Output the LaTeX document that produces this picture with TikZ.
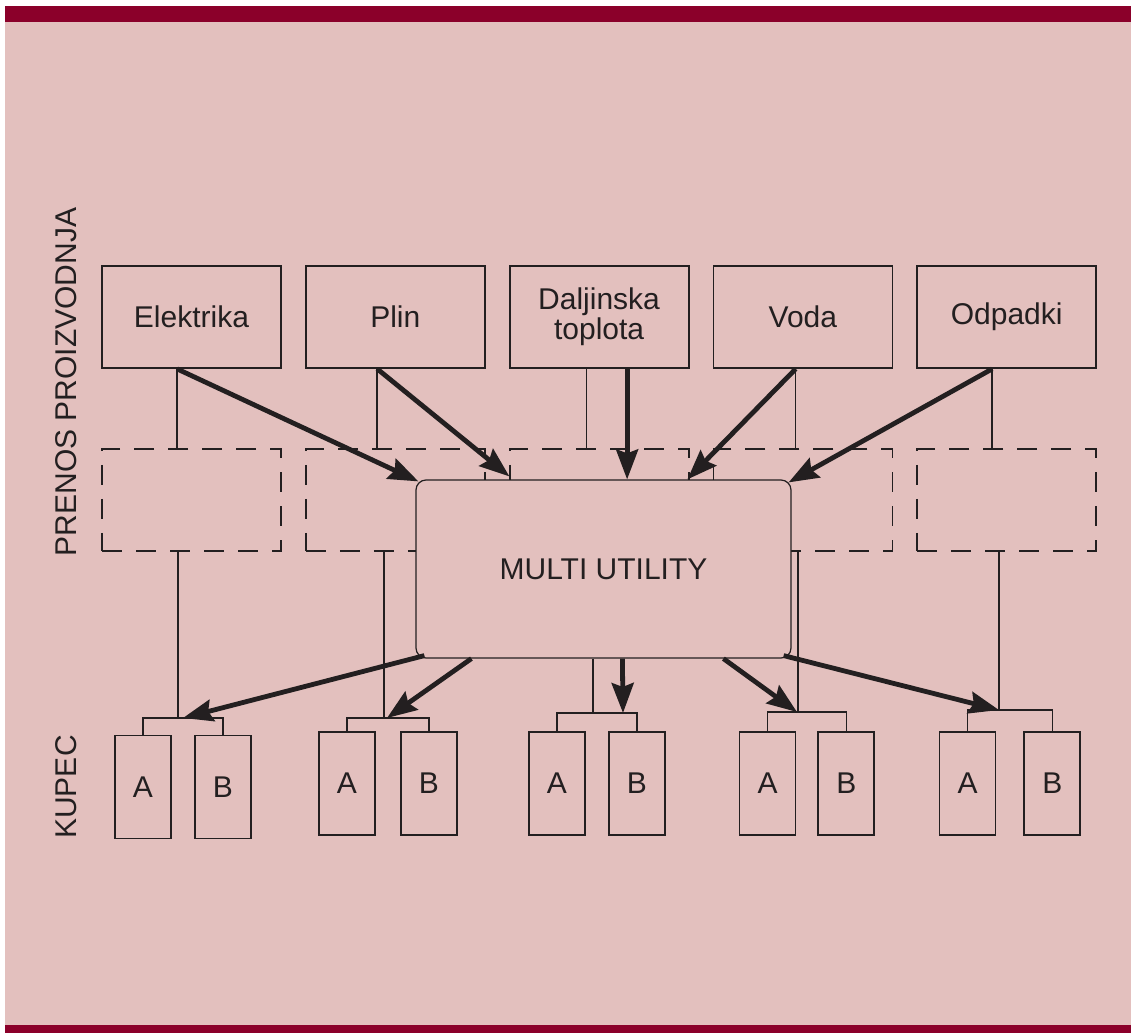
\documentclass[tikz,border=0pt]{standalone}
\usepackage{fontspec}
\setmainfont{Liberation Sans}
\usetikzlibrary{positioning}
\usetikzlibrary{calc}
\usetikzlibrary{arrows.meta}

\definecolor{bgpink}{RGB}{227,192,190}
\definecolor{barred}{RGB}{139,0,42}
\definecolor{ink}{RGB}{35,31,32}

\tikzset{
  src/.style={draw=ink, line width=0.9pt, minimum width=89.5pt, minimum height=51pt,
    inner sep=0pt, align=center, text=ink, font=\fontsize{15}{13.5}\selectfont},
  net/.style={draw=ink, dash pattern=on 10pt off 7pt, line width=0.9pt,
    minimum width=89.5pt, minimum height=51pt, inner sep=0pt},
  hub/.style={draw=ink, line width=0.6pt, fill=bgpink, rounded corners=5pt,
    minimum width=187.5pt, minimum height=89pt, text=ink, font=\fontsize{15}{18}\selectfont},
  cust/.style={draw=ink, line width=0.9pt, minimum width=28pt, minimum height=51.5pt,
    inner sep=0pt, text=ink, font=\fontsize{15}{18}\selectfont},
  tie/.style={draw=ink, line width=0.8pt},
  flow/.style={draw=ink, line width=2.4pt, -{Stealth[length=15pt,width=11pt,inset=2pt]}},
  side/.style={rotate=90, text=ink, font=\fontsize{15}{18}\selectfont},
}

\begin{document}
\begin{tikzpicture}[x=0.5pt, y=-0.5pt]
\fill[white] (0,0) rectangle (1131,1033);
\fill[bgpink] (5,6) rectangle (1131,1033);
\fill[barred] (5,6) rectangle (1131,22);
\fill[barred] (5,1025) rectangle (1131,1033);
\useasboundingbox (0,0) rectangle (1131,1033);

% side labels
\node (lblPrenos) [side] at (66,382) {PRENOS PROIZVODNJA};
\node (lblKupec)  [side] at (66,787) {KUPEC};

% sources
\node (el)               [src] at (191.5,317) {Elektrika};
\node (pl) [right=11.5pt of el, src] {Plin};
\node (dt) [right=11.5pt of pl, src] {Daljinska\\toplota};
\node (vo) [right=11.5pt of dt, src] {Voda};
\node (od) [right=11.5pt of vo, src] {Odpadki};

% networks
\node (elN) [below=39.5pt of el, net] {};
\node (plN) [below=39.5pt of pl, net] {};
\node (dtN) [below=39.5pt of dt, net] {};
\node (voN) [below=39.5pt of vo, net] {};
\node (odN) [below=39.5pt of od, net] {};

\coordinate (elS) at ($(el.south west)!0.42!(el.south east)$);
\coordinate (plS) at ($(pl.south west)!0.40!(pl.south east)$);
\coordinate (dtS) at ($(dt.south west)!0.43!(dt.south east)$);
\coordinate (dtA) at ($(dt.south west)!0.655!(dt.south east)$);
\coordinate (voS) at ($(vo.south west)!0.46!(vo.south east)$);
\coordinate (odS) at ($(od.south west)!0.42!(od.south east)$);

\draw[tie] (elS) -- (elS |- elN.north);
\draw[tie] (plS) -- (plS |- plN.north);
\draw[tie] (dtS) -- (dtS |- dtN.north);
\draw[tie] (voS) -- (voS |- voN.north);
\draw[tie] (odS) -- (odS |- odN.north);

% multi utility
\node (mu) [hub] at (603.5,569) {MULTI UTILITY};

% customers
\node (a1)              [cust] at (143,787) {A};
\node (b1) [right=11pt of a1, cust] {B};
\node (a2)              [cust] at (347,783.5) {A};
\node (b2) [right=12pt of a2, cust] {B};
\node (a3)              [cust] at (557,783.5) {A};
\node (b3) [right=11pt of a3, cust] {B};
\node (a4)              [cust] at (767.5,783.5) {A};
\node (b4) [right=10.5pt of a4, cust] {B};
\node (a5)              [cust] at (967.5,783.5) {A};
\node (b5) [right=13.5pt of a5, cust] {B};

\coordinate (k1) at (178,718);
\coordinate (k2) at (384,718);
\coordinate (k3) at (593,713);
\coordinate (k4) at (798,712);
\coordinate (k5) at (999,710);

\draw[tie] (a1.north) |- (k1) -| (b1.north);
\draw[tie] (a2.north) |- (k2) -| (b2.north);
\draw[tie] (a3.north) |- (k3) -| (b3.north);
\draw[tie] (a4.north) |- (k4) -| (b4.north);
\draw[tie] (a5.north) |- (k5) -| (b5.north);

\draw[tie] (k1 |- elN.south) -- (k1);
\draw[tie] (k2 |- plN.south) -- (k2);
\draw[tie] (k3 |- mu.south) -- (k3);
\draw[tie] (k4 |- voN.south) -- (k4);
\draw[tie] (k5 |- odN.south) -- (k5);

% flows in
\draw[flow] (elS) -- ($(mu.north west)+(3,2)$);
\draw[flow] (plS) -- ($(mu.north west)+(94,-3)$);
\draw[flow] (dtA) -- (dtA |- mu.north);
\draw[flow] (voS) -- ($(mu.north west)+(272,0)$);
\draw[flow] (odS) -- ($(mu.north east)+(-3,3)$);

% flows out
\draw[flow] ($(mu.south west)+(9,-3)$) -- ($(k1)+(5,0)$);
\draw[flow] ($(mu.south west)+(56,0)$) -- ($(k2)+(3,0)$);
\draw[flow] ($(mu.south west)+(207,0)$) -- ($(k3)+(30,0)$);
\draw[flow] ($(mu.south west)+(308,0)$) -- ($(k4)+(-1,0)$);
\draw[flow] ($(mu.south east)+(-8,-3)$) -- (k5);
\end{tikzpicture}
\end{document}
